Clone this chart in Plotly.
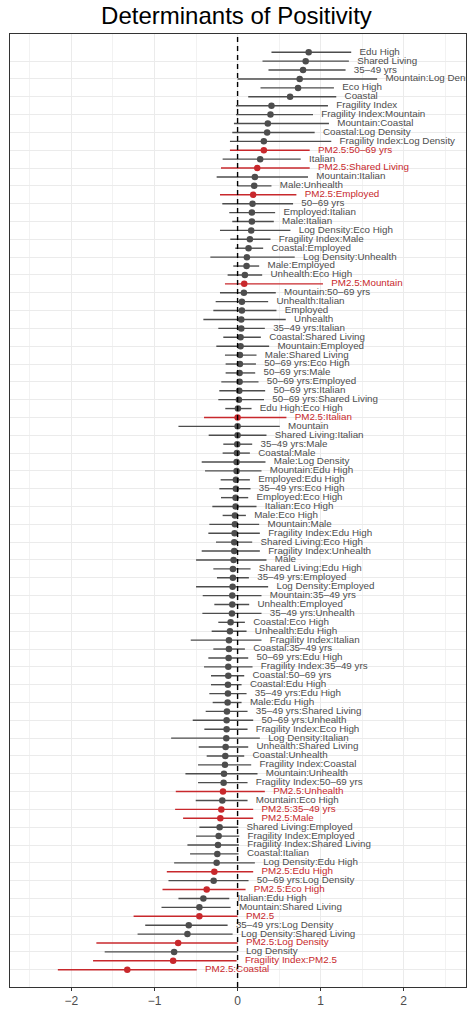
import plotly.graph_objects as go

# Model terms, top to bottom as drawn
terms = [
    "Edu High", "Shared Living", "35\u201349 yrs", "Mountain:Log Density", "Eco High",
    "Coastal", "Fragility Index", "Fragility Index:Mountain", "Mountain:Coastal",
    "Coastal:Log Density", "Fragility Index:Log Density", "PM2.5:50\u201369 yrs", "Italian",
    "PM2.5:Shared Living", "Mountain:Italian", "Male:Unhealth", "PM2.5:Employed",
    "50\u201369 yrs", "Employed:Italian", "Male:Italian", "Log Density:Eco High",
    "Fragility Index:Male", "Coastal:Employed", "Log Density:Unhealth", "Male:Employed",
    "Unhealth:Eco High", "PM2.5:Mountain", "Mountain:50\u201369 yrs", "Unhealth:Italian",
    "Employed", "Unhealth", "35\u201349 yrs:Italian", "Coastal:Shared Living",
    "Mountain:Employed", "Male:Shared Living", "50\u201369 yrs:Eco High", "50\u201369 yrs:Male",
    "50\u201369 yrs:Employed", "50\u201369 yrs:Italian", "50\u201369 yrs:Shared Living",
    "Edu High:Eco High", "PM2.5:Italian", "Mountain", "Shared Living:Italian",
    "35\u201349 yrs:Male", "Coastal:Male", "Male:Log Density", "Mountain:Edu High",
    "Employed:Edu High", "35\u201349 yrs:Eco High", "Employed:Eco High", "Italian:Eco High",
    "Male:Eco High", "Mountain:Male", "Fragility Index:Edu High", "Shared Living:Eco High",
    "Fragility Index:Unhealth", "Male", "Shared Living:Edu High", "35\u201349 yrs:Employed",
    "Log Density:Employed", "Mountain:35\u201349 yrs", "Unhealth:Employed",
    "35\u201349 yrs:Unhealth", "Coastal:Eco High", "Unhealth:Edu High",
    "Fragility Index:Italian", "Coastal:35\u201349 yrs", "50\u201369 yrs:Edu High",
    "Fragility Index:35\u201349 yrs", "Coastal:50\u201369 yrs", "Coastal:Edu High",
    "35\u201349 yrs:Edu High", "Male:Edu High", "35\u201349 yrs:Shared Living",
    "50\u201369 yrs:Unhealth", "Fragility Index:Eco High", "Log Density:Italian",
    "Unhealth:Shared Living", "Coastal:Unhealth", "Fragility Index:Coastal",
    "Mountain:Unhealth", "Fragility Index:50\u201369 yrs", "PM2.5:Unhealth",
    "Mountain:Eco High", "PM2.5:35\u201349 yrs", "PM2.5:Male", "Shared Living:Employed",
    "Fragility Index:Employed", "Fragility Index:Shared Living", "Coastal:Italian",
    "Log Density:Edu High", "PM2.5:Edu High", "50\u201369 yrs:Log Density", "PM2.5:Eco High",
    "Italian:Edu High", "Mountain:Shared Living", "PM2.5", "35\u201349 yrs:Log Density",
    "Log Density:Shared Living", "PM2.5:Log Density", "Log Density",
    "Fragility Index:PM2.5", "PM2.5:Coastal",
]

estimate = [
    0.856, 0.82, 0.788, 0.748, 0.728, 0.632, 0.408, 0.396, 0.364, 0.356, 0.316, 0.316, 0.272,
    0.236, 0.208, 0.20, 0.188, 0.18, 0.172, 0.172, 0.164, 0.148, 0.132, 0.112, 0.108, 0.088,
    0.08, 0.076, 0.052, 0.052, 0.044, 0.044, 0.036, 0.036, 0.028, 0.028, 0.024, 0.024, 0.02,
    0.016, 0.004, 0.0, 0.0, 0.0, -0.004, -0.008, -0.012, -0.012, -0.02, -0.02, -0.024, -0.024,
    -0.032, -0.032, -0.036, -0.04, -0.04, -0.048, -0.056, -0.056, -0.06, -0.064, -0.064,
    -0.068, -0.084, -0.092, -0.104, -0.104, -0.108, -0.112, -0.112, -0.116, -0.116, -0.12,
    -0.128, -0.132, -0.132, -0.136, -0.144, -0.148, -0.152, -0.164, -0.168, -0.176, -0.184,
    -0.196, -0.208, -0.216, -0.228, -0.236, -0.244, -0.252, -0.28, -0.288, -0.372, -0.412,
    -0.46, -0.46, -0.588, -0.604, -0.716, -0.764, -0.776, -1.328,
]

lower = [
    0.408, 0.30, 0.372, 0.0, 0.276, 0.128, -0.02, -0.02, -0.044, -0.064, -0.092, -0.092, -0.18,
    -0.20, -0.252, -0.004, -0.212, -0.184, -0.10, -0.064, -0.212, -0.088, -0.028, -0.328,
    -0.052, -0.12, -0.152, -0.212, -0.264, -0.292, -0.412, -0.232, -0.172, -0.256, -0.152,
    -0.144, -0.144, -0.196, -0.22, -0.232, -0.148, -0.404, -0.712, -0.348, -0.172, -0.18,
    -0.432, -0.392, -0.204, -0.22, -0.20, -0.304, -0.18, -0.34, -0.352, -0.26, -0.432, -0.50,
    -0.292, -0.248, -0.50, -0.42, -0.28, -0.424, -0.232, -0.312, -0.564, -0.292, -0.352,
    -0.404, -0.32, -0.32, -0.34, -0.30, -0.384, -0.54, -0.40, -0.80, -0.468, -0.372, -0.476,
    -0.628, -0.476, -0.744, -0.504, -0.752, -0.656, -0.46, -0.50, -0.604, -0.572, -0.764,
    -0.852, -0.832, -0.904, -0.712, -0.916, -1.252, -1.112, -1.204, -1.70, -1.60, -1.74,
    -2.164,
]

upper = [
    1.368, 1.34, 1.30, 1.68, 1.16, 1.188, 1.088, 0.908, 1.10, 0.928, 1.128, 0.868, 0.76,
    0.868, 0.848, 0.408, 0.708, 0.668, 0.452, 0.436, 0.636, 0.396, 0.308, 0.688, 0.26, 0.296,
    1.028, 0.46, 0.368, 0.468, 0.58, 0.328, 0.28, 0.38, 0.228, 0.22, 0.212, 0.252, 0.332,
    0.318, 0.168, 0.588, 0.508, 0.348, 0.176, 0.148, 0.336, 0.288, 0.148, 0.156, 0.128,
    0.228, 0.10, 0.26, 0.268, 0.176, 0.268, 0.348, 0.156, 0.136, 0.368, 0.288, 0.14, 0.288,
    0.088, 0.108, 0.288, 0.088, 0.128, 0.18, 0.08, 0.048, 0.108, 0.048, 0.12, 0.188, 0.12,
    0.268, 0.128, 0.08, 0.164, 0.24, 0.12, 0.328, 0.12, 0.188, 0.188, 0.008, 0.02, 0.016,
    0.012, 0.208, 0.188, 0.132, 0.096, -0.10, -0.084, 0.0, -0.12, -0.06, 0.0, 0.0, -0.012,
    -0.492,
]

GREY = "#4d4d4d"
RED = "#c8282c"

fig = go.Figure()

# confidence intervals, one trace per colour group
for is_pm, col in [(False, GREY), (True, RED)]:
    xs, ys = [], []
    for t, lo, hi in zip(terms, lower, upper):
        if ("PM2.5" in t) == is_pm:
            xs += [lo, hi, None]
            ys += [t, t, None]
    fig.add_trace(go.Scatter(x=xs, y=ys, mode="lines",
                             line=dict(color=col, width=1.4),
                             hoverinfo="skip", showlegend=False))

colors = [RED if "PM2.5" in t else GREY for t in terms]

fig.add_trace(go.Scatter(x=estimate, y=terms, mode="markers",
                         marker=dict(color=colors, size=6.5, line=dict(width=0)),
                         showlegend=False))

# term labels just right of the upper bound
fig.add_trace(go.Scatter(
    x=[u + 0.1 for u in upper], y=terms, mode="text", text=terms,
    textposition="middle right", cliponaxis=True,
    textfont=dict(family="Liberation Sans, Arial, sans-serif", size=9.8, color=colors),
    hoverinfo="skip", showlegend=False,
))

# zero reference line across the whole panel
fig.add_vline(x=0, line=dict(color="black", width=1.4, dash="5px,4px"), layer="above")

n = len(terms)
fig.update_layout(
    width=473, height=1026,
    margin=dict(l=10, r=7, t=34, b=39),
    paper_bgcolor="white", plot_bgcolor="white",
    font=dict(family="Liberation Sans, Arial, sans-serif", color=GREY),
    title=dict(text="Determinants of Positivity", x=0.5, xanchor="center",
               y=0.985, yanchor="middle",
               font=dict(size=24, color="black")),
    xaxis=dict(range=[-2.74, 2.75], tickvals=[-2, -1, 0, 1, 2],
               showgrid=True, gridcolor="#ebebeb", gridwidth=1.1,
               minor=dict(dtick=0.5, tick0=0, showgrid=True, gridcolor="#f2f2f2", gridwidth=0.6),
               zeroline=False, ticks="outside", ticklen=3, tickcolor="#333333",
               tickfont=dict(size=12, color=GREY),
               showline=True, linecolor="#333333", linewidth=1, mirror=True),
    yaxis=dict(type="category", categoryorder="array", categoryarray=terms,
               range=[n - 1 + 1.94, -2.05], showticklabels=False, ticks="",
               showgrid=True, gridcolor="#ebebeb", gridwidth=1.1, zeroline=False,
               showline=True, linecolor="#333333", linewidth=1, mirror=True),
)

fig.write_html("out.html", config={"displayModeBar": False},
               post_script="document.body.style.margin='0';document.body.style.overflow='hidden';")
